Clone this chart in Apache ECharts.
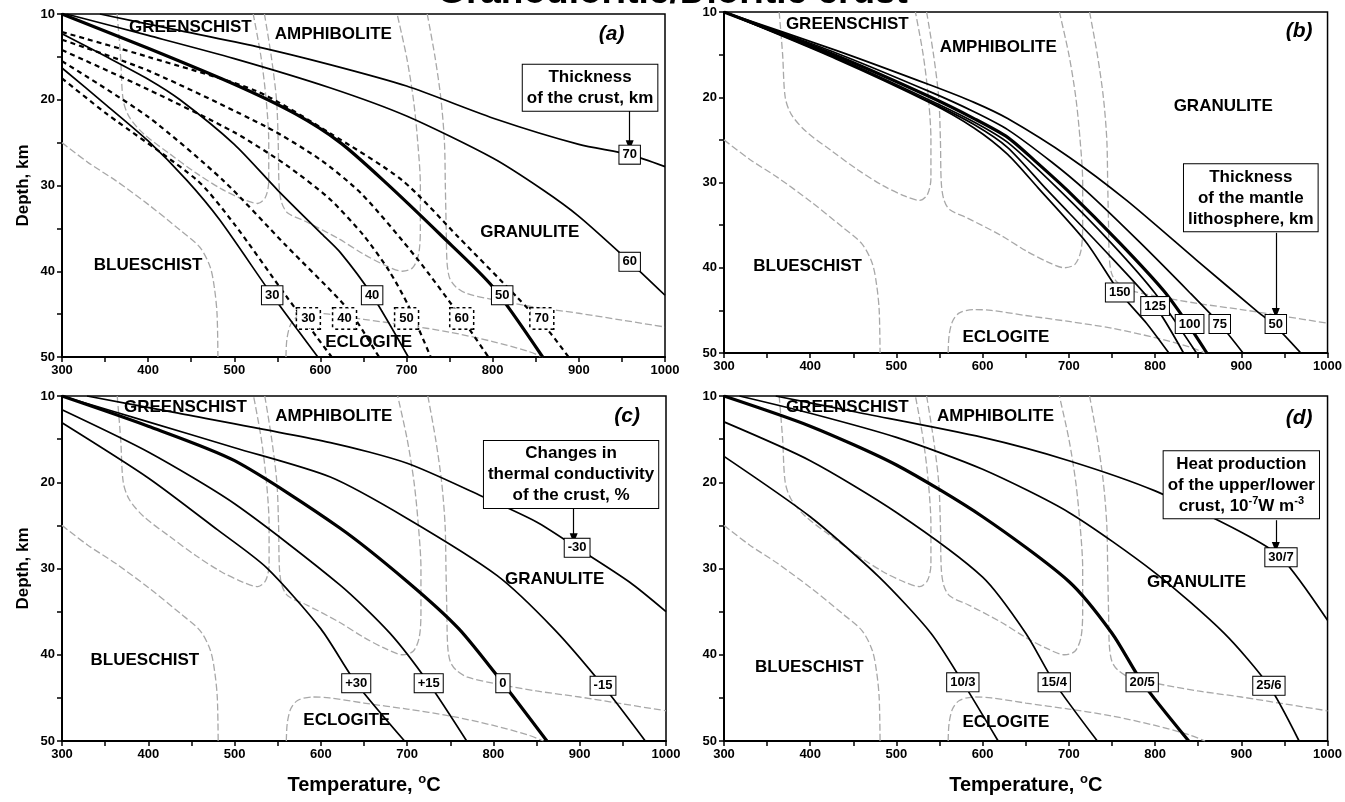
<!DOCTYPE html>
<html><head><meta charset="utf-8">
<script src="https://cdn.jsdelivr.net/npm/echarts@6/dist/echarts.min.js"></script>
<style>html,body{margin:0;padding:0;background:#fff;}#c{width:1345px;height:802px;}</style>
</head><body><div id="c"></div>
<script>
const FONT = '"Liberation Sans", Arial, Helvetica, sans-serif';
const chartTitle = 'Granodioritic/Dioritic crust';
const tempRange = [300, 1000];
const depthRange = [10, 50];

// ---- metamorphic facies boundaries [T degC, depth km] (same in every panel)
const greenschistU = [[364,10],[368,15],[371,20],[378,22],[395,24],[425,26.3],[455,28.5],[485,30.4],[510,31.6],[527,32.1],[536,31.4],[540,29.5],[540,25],[537,20],[531,15],[522,10]];
const amphiboliteU = [[535,10],[543,15],[549,20],[551,25],[552,30],[555,32],[562,33.2],[583,34.2],[621,36.2],[650,38],[675,39.3],[695,40],[707,39.6],[714,38],[716,35],[716,30],[713,25],[708,20],[700,15],[689,10]];
const granuliteEclogite = [[724,10],[733,15],[740,20],[744,25],[745,30],[746,35],[747,39],[750,40.8],[757,41.8],[770,42.6],[800,43.3],[850,44.2],[900,44.9],[950,45.7],[1000,46.5]];
const blueschistEclogite = [[300,25],[330,27.3],[362,29.4],[400,32.2],[437,35.2],[460,37.2],[472,39.5],[477,42],[480,45],[481,50]];
const eclogiteTop = [[560,50],[561,48],[565,46.3],[573,45.3],[590,44.9],[610,45],[650,45.6],[700,46.3],[750,47.1],[800,48.2],[840,49.3],[858,50]];

// ---- panel (a): crustal thickness, km
const aSolid30 = [[300,16.3],[350,20.5],[400,24.8],[445,29.4],[483,34],[544,42.8],[597,50]];
const aSolid40 = [[300,12.3],[350,14.9],[400,17.6],[437,20],[500,25.2],[550,30.5],[600,35.5],[623,37.8],[660,42.8],[702,50]];
const aSolid50 = [[300,10],[400,14],[500,18.2],[570,21.6],[623,25],[673,29.4],[740,35.8],[800,41.8],[858,50]];
const aSolid60 = [[305,10],[400,12.5],[500,15.2],[611,18.6],[700,21.9],[800,26.8],[858,30.5],[900,33.6],[959,38.9],[1000,42.8]];
const aSolid70 = [[344,10],[430,11.8],[526,13.8],[611,15.9],[700,18.4],[805,22.3],[900,25.2],[959,26.4],[1000,27.8]];
const aDash30 = [[300,17.5],[350,21.5],[457,29.4],[500,34.5],[561,43],[596,47.7],[613,50]];
const aDash40 = [[300,15.5],[400,22],[487,29.4],[560,37],[623,43.4],[640,45.5],[668,50]];
const aDash50 = [[300,14.2],[400,18.8],[500,23.8],[560,27.6],[610,31.5],[650,35.8],[680,40],[702,44],[728,50]];
const aDash60 = [[300,13],[400,16.6],[538,23.2],[600,27],[648,31],[712,38.5],[764,45.5],[795,50]];
const aDash70 = [[300,12.1],[400,15],[526,19],[611,23.9],[695,29.4],[760,36],[828,43],[866,47.1],[888,50]];
const aSolidLabels = ['30','40','50','60','70'];
const aDashLabels = ['30','40','50','60','70'];

// ---- panel (b): mantle lithosphere thickness, km
const b150 = [[300,10],[430,15.5],[540,20.7],[590,23.6],[629,26.7],[664,30.6],[720,37],[759,42.9],[790,46.5],[816,50]];
const b125 = [[300,10],[430,15.4],[540,20.6],[590,23.2],[629,25.9],[675,30.9],[740,37.8],[800,44.5],[833,50]];
const b112 = [[300,10],[430,15.3],[540,20.4],[590,22.9],[629,25.3],[689,30.9],[750,37.2],[800,43],[848,50]];
const b100 = [[300,10],[430,15.1],[540,20],[590,22.5],[629,24.7],[660,27.4],[698,30.9],[760,37.2],[810,42.7],[836,46.3],[860,50]];
const b75 = [[300,10],[430,14.8],[540,19.4],[590,21.7],[629,23.8],[680,27.6],[719,30.9],[780,36.8],[840,42.9],[875,46.6],[902,50]];
const b50 = [[300,10],[430,14.5],[540,18.6],[590,20.6],[629,22.5],[700,27],[767,32.1],[848,39.1],[917,45],[940,46.9],[969,50]];
const bLabels = ['150','125','100','75','50'];

// ---- panel (c): change of crustal thermal conductivity, %
const cPlus30 = [[300,13.1],[400,19.5],[480,25.5],[537,29.9],[600,37],[641,43.3],[697,50]];
const cPlus15 = [[300,11.6],[400,16.5],[500,22.5],[622,31.9],[680,37.5],[725,43.3],[769,50]];
const cZero = [[300,10],[400,13.5],[500,17.5],[622,25.3],[700,31.5],[760,37],[811,43.3],[862,50]];
const cMinus15 = [[300,10],[400,13],[500,16],[611,19.4],[700,24.2],[804,30.8],[870,37],[927,43.6],[976,50]];
const cMinus30 = [[329,10],[430,11.9],[611,15.4],[700,17.8],[784,21.5],[850,24.6],[897,27.6],[958,31.6],[1000,35]];
const cLabels = ['+30','+15','0','-15','-30'];

// ---- panel (d): heat production upper/lower crust, 1e-7 W m-3
const d10 = [[300,17],[400,24],[480,31],[540,37.5],[577,43.2],[618,50]];
const d15 = [[300,13],[400,17.5],[500,23.5],[600,31],[650,37.5],[683,43.2],[733,50]];
const d20 = [[300,10],[400,13.5],[500,18],[600,24],[700,31.5],[750,37.5],[785,43.2],[839,50]];
const d25 = [[318,10],[400,12],[500,14.8],[600,18.5],[700,23.5],[800,30.5],[880,37.5],[932,43.6],[967,50]];
const d30 = [[360,10],[450,11.8],[600,14.8],[700,17.5],[800,21],[900,25.8],[946,28.7],[1000,36]];
const dLabels = ['10/3','15/4','20/5','25/6','30/7'];

const panelLetters = ['(a)','(b)','(c)','(d)'];
const boxTexts = [
  'Thickness\nof the crust, km',
  'Thickness\nof the mantle\nlithosphere, km',
  'Changes in\nthermal conductivity\nof the crust, %',
  'Heat production\nof the upper/lower\ncrust, 10{s|-7}W m{s|-3}'
];
const faciesNames = ['GREENSCHIST','AMPHIBOLITE','GRANULITE','BLUESCHIST','ECLOGITE'];
const xName = 'Temperature, {s|o}C';
const yName = 'Depth, km';

// ---------------- layout ----------------
const grids = [
  {left:62, top:14, width:603, height:343},
  {left:724, top:12, width:608, height:341},
  {left:62, top:396, width:604, height:345},
  {left:724, top:396, width:608, height:345}
].map(g => Object.assign(g, {show:true, borderColor:'#000', borderWidth:1.5, backgroundColor:'rgba(0,0,0,0)', containLabel:false}));

const tickLabel = {color:'#000', fontFamily:FONT, fontWeight:'bold', fontSize:13};
const xAxes = grids.map((g,i) => ({
  type:'value', gridIndex:i, min:tempRange[0], max:tempRange[1], interval:100,
  axisLine:{show:true, lineStyle:{color:'#000', width:2}},
  axisTick:{show:true, length:5, lineStyle:{color:'#000', width:1.5}},
  minorTick:{show:true, splitNumber:2, length:5, lineStyle:{color:'#000', width:1.5}},
  splitLine:{show:false}, minorSplitLine:{show:false},
  axisLabel:Object.assign({margin:7, formatter:v => String(v)}, tickLabel),
  name: i>=2 ? xName : '', nameLocation:'middle', nameGap:32,
  nameTextStyle:{color:'#000', fontFamily:FONT, fontWeight:'bold', fontSize:20, lineHeight:24,
    rich:{s:{fontFamily:FONT, fontWeight:'bold', fontSize:13, verticalAlign:'top', lineHeight:24, padding:[0,0,9,0]}}}
}));
const yAxes = grids.map((g,i) => ({
  type:'value', gridIndex:i, min:depthRange[0], max:depthRange[1], interval:10, inverse:true,
  axisLine:{show:true, lineStyle:{color:'#000', width:2}},
  axisTick:{show:true, length:5, lineStyle:{color:'#000', width:1.5}},
  minorTick:{show:true, splitNumber:2, length:5, lineStyle:{color:'#000', width:1.5}},
  splitLine:{show:false}, minorSplitLine:{show:false},
  axisLabel:Object.assign({margin:7}, tickLabel, {fontSize:13}),
  name: (i%2===0) ? yName : '', nameLocation:'middle', nameGap:30, nameRotate:90,
  nameTextStyle:{color:'#000', fontFamily:FONT, fontWeight:'bold', fontSize:17}
}));

const series = [];
function line(idx, data, style, z, sm) {
  series.push({type:'line', xAxisIndex:idx, yAxisIndex:idx, data:data, symbol:'none', showSymbol:false,
    smooth: sm, silent:true, animation:false, clip:true, z:z||3,
    lineStyle:Object.assign({color:'#000', width:1.6, type:'solid', cap:'butt', opacity:1}, style)});
}
function labels(idx, items, style, z) {
  series.push({type:'scatter', xAxisIndex:idx, yAxisIndex:idx, symbolSize:0, silent:true, animation:false, z:z||10,
    itemStyle:{color:'#000', opacity:1},
    data:items.map(it => ({value:[it[0],it[1]], label:{formatter:it[2]}})),
    label:Object.assign({show:true, position:'inside', color:'#000', opacity:1, textBorderWidth:0, textBorderColor:'transparent',
      fontFamily:FONT, fontWeight:'bold', fontSize:13}, style)});
}
function arrow(idx, x, y1, y2) {
  series.push({type:'line', xAxisIndex:idx, yAxisIndex:idx, data:[], silent:true, animation:false, z:9,
    markLine:{silent:true, animation:false, symbol:['none','triangle'], symbolSize:[8,10],
      lineStyle:{color:'#000', width:1.2, type:'solid', opacity:1}, label:{show:false},
      data:[[{coord:[x,y1]},{coord:[x,y2]}]]}});
}

const faciesStyle = {color:'#a8a8a8', width:1.3, type:[7,3]};
for (let i=0;i<4;i++) {
  [greenschistU, amphiboliteU, granuliteEclogite, blueschistEclogite, eclogiteTop].forEach(f => line(i, f, faciesStyle, 2, 0.3));
}

const thin = {width:1.7}, thick = {width:3.2};
const dashS = {width:2.2, type:[5,4]};
const S = 0.25;
line(0, aSolid30, thin, 3, S); line(0, aSolid40, thin, 3, S); line(0, aSolid50, thick, 3, S); line(0, aSolid60, thin, 3, S); line(0, aSolid70, thin, 3, S);
[aDash30,aDash40,aDash50,aDash60,aDash70].forEach(d => line(0, d, dashS, 3, S));
line(1, b150, thin, 3, S); line(1, b125, thin, 3, S); line(1, b112, thin, 3, S); line(1, b100, thick, 3, S); line(1, b75, thin, 3, S); line(1, b50, thin, 3, S);
line(2, cPlus30, thin, 3, S); line(2, cPlus15, thin, 3, S); line(2, cZero, thick, 3, S); line(2, cMinus15, thin, 3, S); line(2, cMinus30, thin, 3, S);
line(3, d10, thin, 3, S); line(3, d15, thin, 3, S); line(3, d20, thick, 3, S); line(3, d25, thin, 3, S); line(3, d30, thin, 3, S);

const boxStyle = {backgroundColor:'#fff', borderColor:'#000', borderWidth:1, padding:[3,3,2,3]};
labels(0, [[544,42.8,aSolidLabels[0]],[660,42.8,aSolidLabels[1]],[811,42.8,aSolidLabels[2]],[959,38.9,aSolidLabels[3]],[959,26.4,aSolidLabels[4]]], boxStyle);
labels(0, [[586,45.5,aDashLabels[0]],[628,45.5,aDashLabels[1]],[700,45.5,aDashLabels[2]],[764,45.5,aDashLabels[3]],[857,45.5,aDashLabels[4]]], Object.assign({}, boxStyle, {borderType:'dotted', borderWidth:1.5, padding:[4,4,3,4]}));
labels(1, [[759,42.9,bLabels[0]],[800,44.5,bLabels[1]],[840,46.6,bLabels[2]],[875,46.6,bLabels[3]],[940,46.6,bLabels[4]]], boxStyle);
labels(2, [[641,43.3,cLabels[0]],[725,43.3,cLabels[1]],[811,43.3,cLabels[2]],[927,43.6,cLabels[3]],[897,27.6,cLabels[4]]], boxStyle);
labels(3, [[577,43.2,dLabels[0]],[683,43.2,dLabels[1]],[785,43.2,dLabels[2]],[932,43.6,dLabels[3]],[946,28.7,dLabels[4]]], boxStyle);

const fs = {fontSize:17};
labels(0, [[449,11.6,faciesNames[0]],[615,12.4,faciesNames[1]],[843,35.5,faciesNames[2]],[400,39.3,faciesNames[3]],[656,48.3,faciesNames[4]]], fs, 8);
labels(1, [[443,11.5,faciesNames[0]],[618,14.2,faciesNames[1]],[879,21.1,faciesNames[2]],[397,39.8,faciesNames[3]],[627,48.2,faciesNames[4]]], fs, 8);
labels(2, [[443,11.3,faciesNames[0]],[615,12.4,faciesNames[1]],[871,31.3,faciesNames[2]],[396,40.7,faciesNames[3]],[630,47.6,faciesNames[4]]], fs, 8);
labels(3, [[443,11.3,faciesNames[0]],[615,12.4,faciesNames[1]],[848,31.6,faciesNames[2]],[399,41.5,faciesNames[3]],[627,47.8,faciesNames[4]]], fs, 8);

const letterStyle = {fontSize:21, fontStyle:'italic'};
labels(0, [[938,12.3,panelLetters[0]]], letterStyle);
labels(1, [[967,12.3,panelLetters[1]]], letterStyle);
labels(2, [[955,12.4,panelLetters[2]]], letterStyle);
labels(3, [[967,12.6,panelLetters[3]]], letterStyle);

const noteStyle = {backgroundColor:'#fff', borderColor:'#000', borderWidth:1, padding:[2,4,2,4], fontSize:17, lineHeight:21, align:'center',
  rich:{s:{fontFamily:FONT, fontWeight:'bold', fontSize:11, verticalAlign:'top', lineHeight:21, padding:[0,0,8,0]}}};
labels(0, [[913,18.6,boxTexts[0]]], noteStyle, 11);
labels(1, [[911,31.8,boxTexts[1]]], noteStyle, 11);
labels(2, [[890,19.1,boxTexts[2]]], noteStyle, 11);
labels(3, [[900,20.3,boxTexts[3]]], noteStyle, 11);
arrow(0, 959, 21.3, 25.3);
arrow(1, 940, 35.9, 45.3);
arrow(2, 893, 22.9, 26.5);
arrow(3, 940, 24.4, 27.5);

const chart = echarts.init(document.getElementById('c'), null, {renderer:'canvas'});
chart.setOption({
  animation:false,
  backgroundColor:'#fff',
  textStyle:{fontFamily:FONT},
  graphic:[{type:'text', left:'center', top:-26, style:{text:chartTitle, font:'bold 37px ' + FONT, fill:'#000'}}],
  grid:grids, xAxis:xAxes, yAxis:yAxes, series:series
});
</script></body></html>
